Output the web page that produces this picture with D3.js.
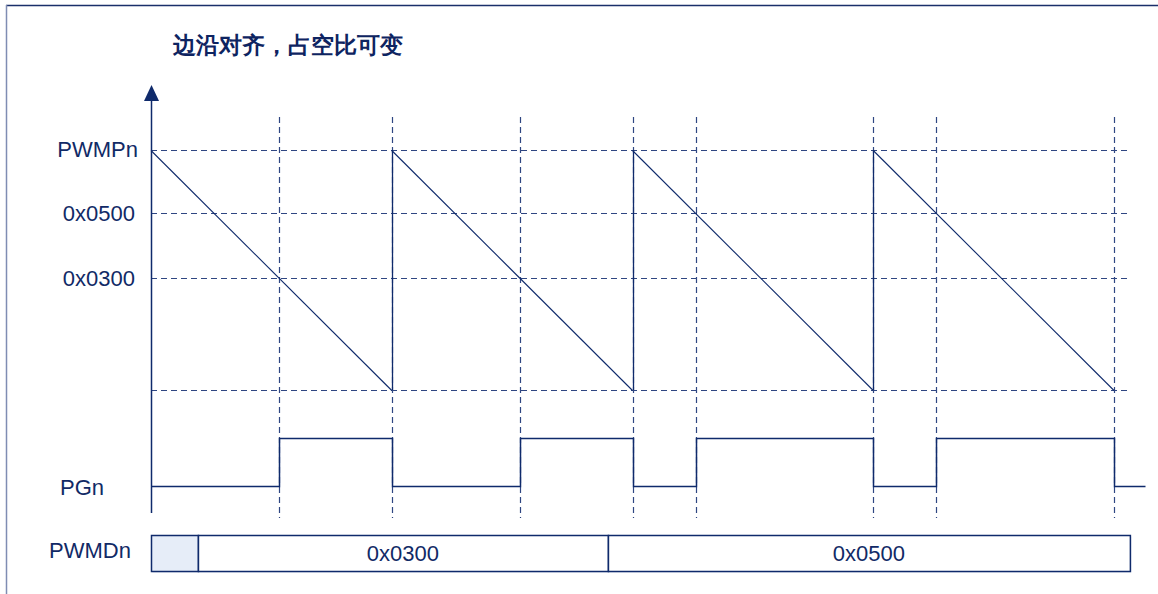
<!DOCTYPE html>
<html><head><meta charset="utf-8">
<script src="https://cdn.jsdelivr.net/npm/d3@7/dist/d3.min.js"></script>
<style>
html,body{margin:0;padding:0;background:#fff;}
svg{display:block;}
text{font-family:"Liberation Sans",Arial,sans-serif;}
</style></head>
<body>
<svg id="c" width="1158" height="594"></svg>
<script>
// ---- data ----
const title = "边沿对齐，占空比可变";
const periods = [0, 1, 2, 3];                 // PWM periods (edge-aligned, counter counts down)
const levelNames = ["PWMPn", "0x0500", "0x0300", "0"];
const levelValues = [0x0700, 0x0500, 0x0300, 0x0000];
const compareValues = [0x0300, 0x0300, 0x0500, 0x0500];   // PWMDn active in each period
const pwmdSegments = [
  {from: 0, to: 0.195, label: ""},
  {from: 0.195, to: 1.898, label: "0x0300"},
  {from: 1.898, to: 4.066, label: "0x0500"}
];
const tailEnd = 4.13;   // PG trace continues slightly past last period
const guideEnd = 4.066; // horizontal guides end

// ---- scales ----
const NAVY = "#0f2a6b";
const DASH = "#2f4682";
const svg = d3.select("#c");
const x = d3.scaleLinear().domain([0, 4]).range([151, 1114]);
const y = d3.scaleLinear().domain([0x0000, 0x0300, 0x0500, 0x0700]).range([390, 278, 213, 150]);
const pg = d3.scaleOrdinal().domain([0, 1]).range([486, 438]);

// frame
svg.append("line").attr("x1", 6).attr("x2", 1158).attr("y1", 5.5).attr("y2", 5.5)
  .attr("stroke", "#1a2f6a").attr("stroke-width", 1.5);
svg.append("line").attr("x1", 6.5).attr("x2", 6.5).attr("y1", 5).attr("y2", 594)
  .attr("stroke", "#7f8db3").attr("stroke-width", 1.5);

// title
svg.append("text").attr("x", 173).attr("y", 53).text(title)
  .attr("font-family", "'Noto Sans CJK SC', sans-serif").attr("font-weight", "bold")
  .attr("font-size", 23).attr("fill", "#0e2461");

// crossing times: counter line from top (start) to 0 (end) meets compare level
const topV = levelValues[0];
function crossT(k) {
  const f = (y(compareValues[k]) - y(topV)) / (y(0) - y(topV));
  return k + f;
}
const crossTimes = periods.map(crossT);

// horizontal dashed guides
svg.append("g").selectAll("line").data(levelValues).join("line")
  .attr("x1", x(0)).attr("x2", x(guideEnd))
  .attr("y1", d => y(d) + 0.5).attr("y2", d => y(d) + 0.5)
  .attr("stroke", DASH).attr("stroke-width", 1.2).attr("stroke-dasharray", "6,4");

// vertical dashed guides
const vTimes = [];
periods.forEach((k, i) => { vTimes.push(crossTimes[i]); vTimes.push(k + 1); });
svg.append("g").selectAll("line").data(vTimes).join("line")
  .attr("x1", d => Math.round(x(d)) + 0.5).attr("x2", d => Math.round(x(d)) + 0.5)
  .attr("y1", 117).attr("y2", 518)
  .attr("stroke", DASH).attr("stroke-width", 1.2).attr("stroke-dasharray", "6,4");

// y axis with arrow
svg.append("line").attr("x1", 151.5).attr("x2", 151.5).attr("y1", 98).attr("y2", 513)
  .attr("stroke", NAVY).attr("stroke-width", 1.5);
svg.append("path").attr("d", "M151.5,85 L144,101 L159,101 Z").attr("fill", NAVY);

// sawtooth
const sawLine = d3.line().x(d => x(d[0])).y(d => y(d[1]) + 0.5);
periods.forEach(k => {
  svg.append("path").attr("d", sawLine([[k, topV], [k + 1, 0]]))
    .attr("fill", "none").attr("stroke", NAVY).attr("stroke-width", 1.1);
});
// vertical reset edges of sawtooth
periods.slice(1).forEach(k => {
  svg.append("line").attr("x1", Math.round(x(k)) + 0.5).attr("x2", Math.round(x(k)) + 0.5)
    .attr("y1", y(topV)).attr("y2", y(0))
    .attr("stroke", NAVY).attr("stroke-width", 1.3);
});

// PG waveform
const pgPts = [];
periods.forEach((k, i) => {
  pgPts.push([k, 0]); pgPts.push([crossTimes[i], 0]);
  pgPts.push([crossTimes[i], 1]); pgPts.push([k + 1, 1]);
});
pgPts.push([4, 0]); pgPts.push([tailEnd, 0]);
svg.append("path")
  .attr("d", d3.line().x(d => Math.round(x(d[0])) + 0.5).y(d => pg(d[1]) + 0.5)(pgPts))
  .attr("fill", "none").attr("stroke", NAVY).attr("stroke-width", 1.5);

// PWMDn bar
const barY = 535, barH = 36;
svg.append("rect").attr("x", x(0) + 1.5).attr("y", barY + 1.5)
  .attr("width", x(guideEnd) - x(0)).attr("height", barH)
  .attr("fill", "#dfe6f2");
svg.append("g").selectAll("rect").data(pwmdSegments).join("rect")
  .attr("x", d => x(d.from) + 0.5).attr("y", barY + 0.5)
  .attr("width", d => x(d.to) - x(d.from)).attr("height", barH)
  .attr("fill", d => d.label === "" ? "#e6edf8" : "#ffffff")
  .attr("stroke", NAVY).attr("stroke-width", 1.5);
svg.append("g").selectAll("text").data(pwmdSegments.filter(d => d.label)).join("text")
  .attr("x", d => (x(d.from) + x(d.to)) / 2).attr("y", 561)
  .attr("text-anchor", "middle").attr("font-size", 22).attr("fill", "#112a66")
  .text(d => d.label);

// labels
const labelFont = 22;
svg.append("text").attr("x", 138).attr("y", 157).attr("text-anchor", "end")
  .attr("font-size", labelFont).attr("fill", "#112a66").text(levelNames[0]);
svg.append("text").attr("x", 135).attr("y", 221).attr("text-anchor", "end")
  .attr("font-size", labelFont).attr("fill", "#112a66").text(levelNames[1]);
svg.append("text").attr("x", 135).attr("y", 286).attr("text-anchor", "end")
  .attr("font-size", labelFont).attr("fill", "#112a66").text(levelNames[2]);
svg.append("text").attr("x", 60).attr("y", 495)
  .attr("font-size", labelFont).attr("fill", "#112a66").text("PGn");
svg.append("text").attr("x", 49).attr("y", 558)
  .attr("font-size", labelFont).attr("fill", "#112a66").text("PWMDn");
</script>
</body></html>
